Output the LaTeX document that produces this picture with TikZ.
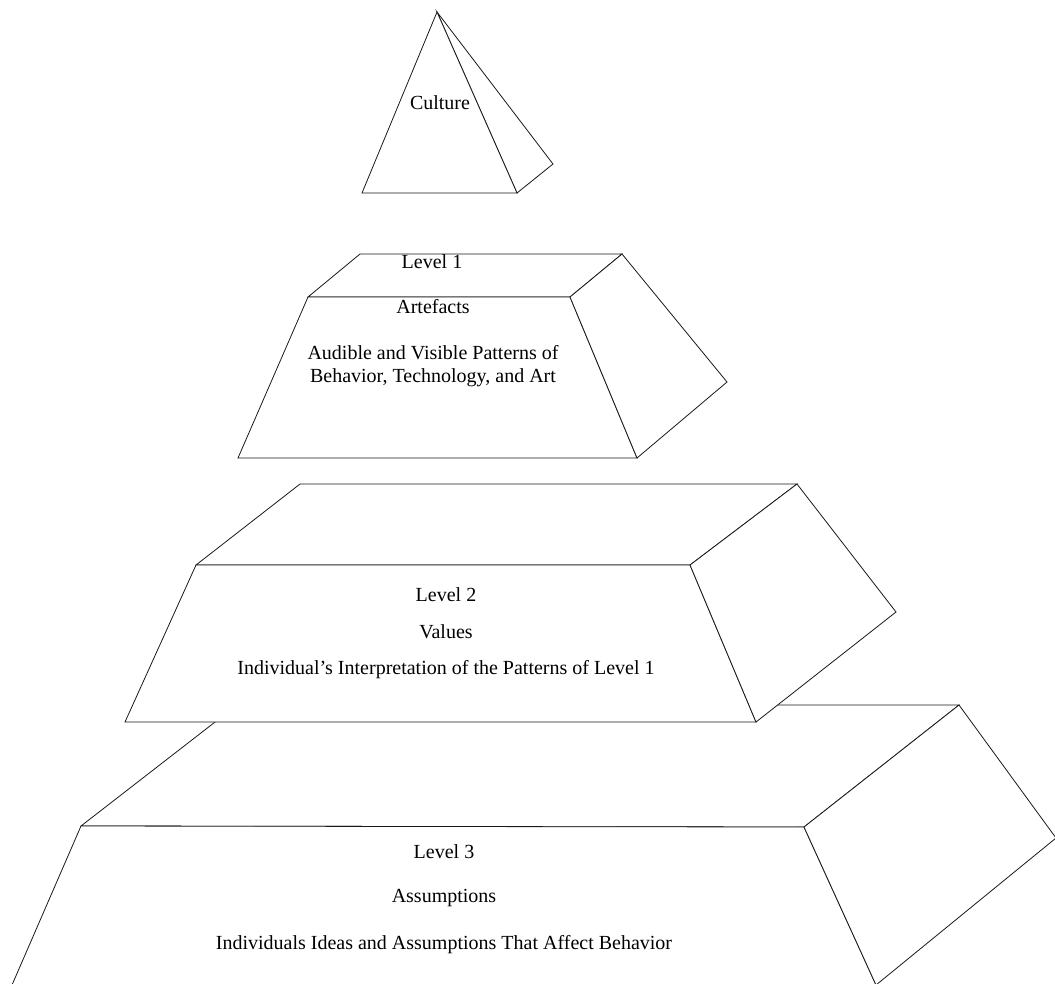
\documentclass[tikz,border=0pt]{standalone}
\usepackage{fontspec}
\setmainfont{Liberation Serif}
\begin{document}
\begin{tikzpicture}[x=1pt,y=-1pt,
  face/.style={draw=black!90,line width=0.8pt,fill=white,line join=miter},
  lbl/.style={font=\fontsize{20}{23}\selectfont,inner sep=0pt,anchor=center,align=center}]
\useasboundingbox (0,0) rectangle (1055,983);
\clip (0,0) rectangle (1055,983);
% ---------- Level 3 ----------
\coordinate (c3a) at (237,705);
\coordinate (c3b) at (959,705);
\coordinate (c3c) at (804,827);
\coordinate (c3d) at (81,826);
\coordinate (c3e) at (12,985);
\coordinate (c3f) at (876,985);
\coordinate (c3g) at (1056,838);
\draw[face] (c3a) -- (c3b) -- (c3c) -- (c3d) -- cycle;
\draw[face] (c3d) -- (c3c) -- (c3f) -- (c3e) -- cycle;
\draw[face] (c3c) -- (c3b) -- (c3g) -- (c3f) -- cycle;
% ---------- Level 2 ----------
\coordinate (c2a) at (300,484);
\coordinate (c2b) at (797,484);
\coordinate (c2c) at (690,565);
\coordinate (c2d) at (196,565);
\coordinate (c2e) at (125,722);
\coordinate (c2f) at (756,722);
\coordinate (c2g) at (896,612);
\draw[face] (c2a) -- (c2b) -- (c2c) -- (c2d) -- cycle;
\draw[face] (c2d) -- (c2c) -- (c2f) -- (c2e) -- cycle;
\draw[face] (c2c) -- (c2b) -- (c2g) -- (c2f) -- cycle;
% ---------- Level 1 ----------
\coordinate (c1a) at (360,254);
\coordinate (c1b) at (622,254);
\coordinate (c1c) at (570,297);
\coordinate (c1d) at (308,297);
\coordinate (c1e) at (238,458);
\coordinate (c1f) at (637,458);
\coordinate (c1g) at (727,382);
\draw[face] (c1a) -- (c1b) -- (c1c) -- (c1d) -- cycle;
\draw[face] (c1d) -- (c1c) -- (c1f) -- (c1e) -- cycle;
\draw[face] (c1c) -- (c1b) -- (c1g) -- (c1f) -- cycle;
% ---------- Culture pyramid ----------
\coordinate (cpa) at (437,12);
\coordinate (cpb) at (362,193);
\coordinate (cpc) at (517,193);
\coordinate (cpd) at (553,164);
\draw[face] (cpa) -- (cpc) -- (cpd) -- cycle;
\draw[face] (cpa) -- (cpb) -- (cpc) -- cycle;
% ---------- Labels ----------
\node[lbl] (culture) at (440,103) {Culture};
\node[lbl] (lev1) at (432,262) {Level 1};
\node[lbl] (art) at (433,307) {Artefacts};
\node[lbl] (art2) at (433,366) {Audible and Visible Patterns of\\Behavior, Technology, and Art};
\node[lbl] (lev2) at (446,595) {Level 2};
\node[lbl] (val) at (446,632) {Values};
\node[lbl] (val2) at (446,670) {Individual’s Interpretation of the Patterns of Level 1};
\node[lbl] (lev3) at (444,852) {Level 3};
\node[lbl] (ass) at (444,898) {Assumptions};
\node[lbl] (ass2) at (444,945) {Individuals Ideas and Assumptions That Affect Behavior};
\end{tikzpicture}
\end{document}
